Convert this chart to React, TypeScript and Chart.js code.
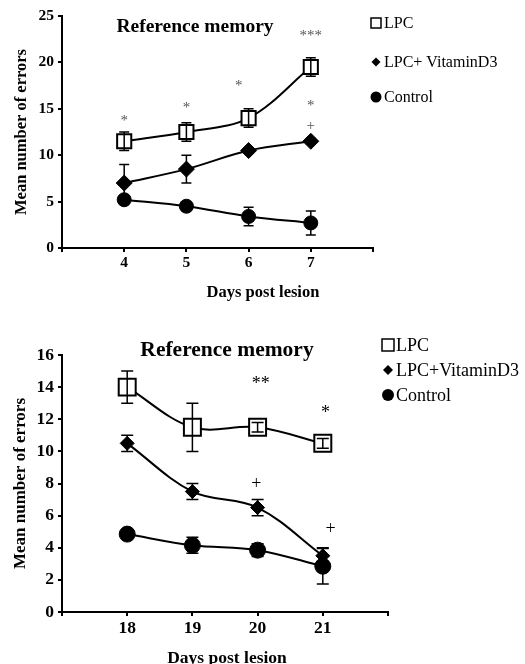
import React, { useEffect, useRef } from "react";
import { Chart, registerables } from "chart.js";
Chart.register(...registerables);

const SERIF = "'Liberation Serif', 'Times New Roman', serif";

// ---------- Panel A (days 4-7) ----------
const daysA = [4, 5, 6, 7];
const lpcA = [11.5, 12.5, 14.0, 19.5];
const lpcErrA = [1.0, 1.0, 1.0, 1.0];
const vitA = [7.0, 8.5, 10.5, 11.5];
const vitErrA = [2.0, 1.5, 0.3, 0.3];
const ctrlA = [5.2, 4.5, 3.4, 2.7];
const ctrlErrA = [0.3, 0.3, 1.0, 1.3];
const xTicksA = [3, 4, 5, 6, 7, 8];
const yTicksA = [0, 5, 10, 15, 20, 25];
const marksA = [
  { x: 4, y: 14.0, text: "*" },
  { x: 5, y: 15.4, text: "*" },
  { x: 5.84, y: 17.8, text: "*" },
  { x: 7, y: 23.2, text: "***" },
  { x: 7, y: 15.6, text: "*" },
  { x: 7, y: 13.5, text: "+" },
];
const legendA = ["LPC", "LPC+ VitaminD3", "Control"];

// ---------- Panel B (days 18-21) ----------
const daysB = [18, 19, 20, 21];
const lpcB = [14.0, 11.5, 11.5, 10.5];
const lpcErrB = [1.0, 1.5, 0.3, 0.3];
const vitB = [10.5, 7.5, 6.5, 3.5];
const vitErrB = [0.5, 0.5, 0.5, 0.5];
const ctrlB = [4.85, 4.15, 3.85, 2.85];
const ctrlErrB = [0.2, 0.5, 0.4, 1.1];
const xTicksB = [17, 18, 19, 20, 21, 22];
const yTicksB = [0, 2, 4, 6, 8, 10, 12, 14, 16];
const marksB = [
  { x: 20.05, y: 14.4, text: "**" },
  { x: 21.04, y: 12.6, text: "*" },
  { x: 19.98, y: 8.17, text: "+" },
  { x: 21.12, y: 5.35, text: "+" },
];
const legendB = ["LPC", "LPC+VitaminD3", "Control"];

const TITLE = "Reference memory";
const X_TITLE = "Days post lesion";
const Y_TITLE = "Mean number of errors";

type Panel = {
  w: number;
  h: number;
  days: number[];
  series: number[][];
  errs: number[][];
  xTicks: number[];
  yTicks: number[];
  marks: { x: number; y: number; text: string }[];
  legend: string[];
  padTop: number;
  padRight: number;
  xAxisH: number;
  tickFont: number;
  yTitleFont: number;
  yTitlePad: number;
  xTitleFont: number;
  xTitlePos: [number, number];
  titleFont: number;
  titlePos: [number, number];
  legendFont: number;
  legendX: number;
  legendTextX: number;
  legendY: number[];
  legendR: number[];
  markFont: number;
  markColor: string;
  radii: number[];
  cap: number;
};

function drawMarker(ctx: CanvasRenderingContext2D, kind: number, x: number, y: number, r: number) {
  ctx.save();
  ctx.beginPath();
  if (kind === 0) {
    ctx.rect(x - r, y - r, 2 * r, 2 * r);
    ctx.fillStyle = "#fff";
    ctx.fill();
    ctx.lineWidth = 1.5;
    ctx.strokeStyle = "#000";
    ctx.stroke();
  } else if (kind === 1) {
    ctx.moveTo(x, y - r);
    ctx.lineTo(x + r, y);
    ctx.lineTo(x, y + r);
    ctx.lineTo(x - r, y);
    ctx.closePath();
    ctx.fillStyle = "#000";
    ctx.fill();
  } else {
    ctx.arc(x, y, r, 0, Math.PI * 2);
    ctx.fillStyle = "#000";
    ctx.fill();
  }
  ctx.restore();
}

function makeExtras(p: Panel) {
  return {
    id: "extras",
    afterDatasetsDraw(chart: any) {
      const ctx: CanvasRenderingContext2D = chart.ctx;
      const xs = chart.scales.x;
      const ys = chart.scales.y;
      // error bars
      ctx.save();
      ctx.strokeStyle = "#000";
      ctx.lineWidth = 1.5;
      p.series.forEach((vals, si) => {
        vals.forEach((v, i) => {
          const e = p.errs[si][i];
          const px = xs.getPixelForValue(p.days[i]);
          const top = ys.getPixelForValue(v + e);
          const bot = ys.getPixelForValue(v - e);
          ctx.beginPath();
          ctx.moveTo(px, top);
          ctx.lineTo(px, bot);
          ctx.moveTo(px - p.cap, top);
          ctx.lineTo(px + p.cap, top);
          ctx.moveTo(px - p.cap, bot);
          ctx.lineTo(px + p.cap, bot);
          ctx.stroke();
        });
      });
      ctx.restore();
      // significance marks
      ctx.save();
      ctx.fillStyle = p.markColor;
      ctx.font = `${p.markFont}px ${SERIF}`;
      ctx.textAlign = "center";
      ctx.textBaseline = "middle";
      p.marks.forEach((m) => {
        ctx.fillText(m.text, xs.getPixelForValue(m.x), ys.getPixelForValue(m.y) + p.markFont * 0.2);
      });
      ctx.restore();
    },
    afterDraw(chart: any) {
      const ctx: CanvasRenderingContext2D = chart.ctx;
      ctx.save();
      ctx.fillStyle = "#000";
      ctx.textAlign = "center";
      ctx.textBaseline = "middle";
      ctx.font = `bold ${p.titleFont}px ${SERIF}`;
      ctx.fillText(TITLE, p.titlePos[0], p.titlePos[1]);
      ctx.font = `bold ${p.xTitleFont}px ${SERIF}`;
      ctx.fillText(X_TITLE, p.xTitlePos[0], p.xTitlePos[1]);
      // legend
      ctx.font = `${p.legendFont}px ${SERIF}`;
      ctx.textAlign = "left";
      p.legend.forEach((lab, i) => {
        const y = p.legendY[i];
        drawMarker(ctx, i, p.legendX, y, p.legendR[i]);
        ctx.fillStyle = "#000";
        ctx.fillText(lab, p.legendTextX, y + 1);
      });
      ctx.restore();
    },
  };
}

function makeConfig(p: Panel): any {
  const styles = [
    { pointStyle: "rect", backgroundColor: "#fff" },
    { pointStyle: "rectRot", backgroundColor: "#000" },
    { pointStyle: "circle", backgroundColor: "#000" },
  ];
  return {
    type: "line",
    data: {
      datasets: p.series.map((vals, si) => ({
        label: p.legend[si],
        data: vals.map((v, i) => ({ x: p.days[i], y: v })),
        pointStyle: styles[si].pointStyle,
        pointBackgroundColor: styles[si].backgroundColor,
        pointBorderColor: "#000",
        pointBorderWidth: si === 0 ? 2 : 1,
        pointRadius: p.radii[si],
        borderColor: "#000",
        borderWidth: 2,
        tension: 0.35,
        fill: false,
      })),
    },
    options: {
      responsive: false,
      animation: false,
      layout: { padding: { left: 0, top: p.padTop, right: p.padRight, bottom: 0 } },
      plugins: { legend: { display: false }, tooltip: { enabled: false }, title: { display: false } },
      scales: {
        x: {
          type: "linear",
          min: p.xTicks[0],
          max: p.xTicks[p.xTicks.length - 1],
          afterBuildTicks: (s: any) => {
            s.ticks = p.xTicks.map((v) => ({ value: v }));
          },
          afterFit: (s: any) => {
            s.height = p.xAxisH;
          },
          ticks: {
            autoSkip: false,
            maxRotation: 0,
            callback: (v: any) => (p.days.includes(Number(v)) ? String(v) : ""),
            color: "#000",
            font: { family: SERIF, size: p.tickFont, weight: "bold" },
            padding: 2,
          },
          grid: { drawOnChartArea: false, drawTicks: true, tickLength: 4, color: "#000", lineWidth: 2 },
          border: { display: true, color: "#000", width: 2 },
        },
        y: {
          type: "linear",
          min: p.yTicks[0],
          max: p.yTicks[p.yTicks.length - 1],
          afterBuildTicks: (s: any) => {
            s.ticks = p.yTicks.map((v) => ({ value: v }));
          },
          afterFit: (s: any) => {
            s.width = 62;
          },
          ticks: {
            color: "#000",
            font: { family: SERIF, size: p.tickFont, weight: "bold" },
            padding: 4,
          },
          grid: { drawOnChartArea: false, drawTicks: true, tickLength: 4, color: "#000", lineWidth: 2 },
          border: { display: true, color: "#000", width: 2 },
          title: {
            display: true,
            text: Y_TITLE,
            color: "#000",
            font: { family: SERIF, size: p.yTitleFont, weight: "bold" },
            padding: { top: p.yTitlePad, bottom: 0 },
          },
        },
      },
    },
    plugins: [makeExtras(p)],
  };
}

const panelA: Panel = {
  w: 525,
  h: 310,
  days: daysA,
  series: [lpcA, vitA, ctrlA],
  errs: [lpcErrA, vitErrA, ctrlErrA],
  xTicks: xTicksA,
  yTicks: yTicksA,
  marks: marksA,
  legend: legendA,
  padTop: 16,
  padRight: 152,
  xAxisH: 62,
  tickFont: 15.5,
  yTitleFont: 16.5,
  yTitlePad: 12,
  xTitleFont: 16.5,
  xTitlePos: [263, 293],
  titleFont: 19.5,
  titlePos: [195, 27],
  legendFont: 16,
  legendX: 376,
  legendTextX: 384,
  legendY: [23, 62, 97],
  legendR: [5, 4.5, 5.5],
  markFont: 15,
  markColor: "#555",
  radii: [10, 8, 7],
  cap: 5,
};

const panelB: Panel = {
  w: 525,
  h: 344,
  days: daysB,
  series: [lpcB, vitB, ctrlB],
  errs: [lpcErrB, vitErrB, ctrlErrB],
  xTicks: xTicksB,
  yTicks: yTicksB,
  marks: marksB,
  legend: legendB,
  padTop: 35,
  padRight: 137,
  xAxisH: 52,
  tickFont: 17.5,
  yTitleFont: 17,
  yTitlePad: 10,
  xTitleFont: 17.5,
  xTitlePos: [227, 338],
  titleFont: 21.5,
  titlePos: [227, 30],
  legendFont: 18,
  legendX: 388,
  legendTextX: 396,
  legendY: [25, 50, 75],
  legendR: [6, 5, 6],
  markFont: 18,
  markColor: "#000",
  radii: [12, 7, 8],
  cap: 6,
};

function ChartCanvas({ panel, top }: { panel: Panel; top: number }) {
  const ref = useRef<HTMLCanvasElement | null>(null);
  useEffect(() => {
    if (!ref.current) return;
    const chart = new Chart(ref.current, makeConfig(panel));
    return () => chart.destroy();
  }, [panel]);
  return (
    <canvas
      ref={ref}
      width={panel.w}
      height={panel.h}
      style={{ position: "absolute", left: 0, top, width: panel.w, height: panel.h }}
    />
  );
}

export default function App() {
  return (
    <div style={{ position: "absolute", left: 0, top: 0, width: 525, height: 664, background: "#fff" }}>
      <ChartCanvas panel={panelA} top={0} />
      <ChartCanvas panel={panelB} top={320} />
    </div>
  );
}
